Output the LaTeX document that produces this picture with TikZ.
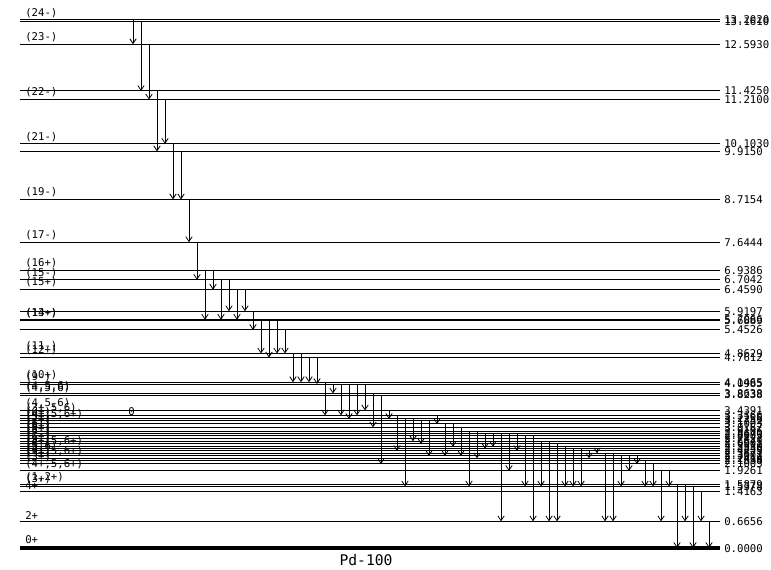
\documentclass[tikz,border=0pt]{standalone}
\usepackage{fontspec}
\setmonofont{DejaVu Sans Mono}
\usetikzlibrary{arrows.meta}
\tikzset{
  level/.style={line width=0.75pt},
  gslevel/.style={line width=3.6pt},
  gtrans/.style={-{Straight Barb[length=3.6pt,width=4.8pt]}, line width=0.6pt},
  elabel/.style={anchor=west, inner sep=0pt, font=\ttfamily\fontsize{8}{8}\selectfont},
  jlabel/.style={anchor=south west, inner sep=0pt, font=\ttfamily\fontsize{8}{8}\selectfont}
}

\begin{document}
\begin{tikzpicture}[x=0.75pt, y=-0.75pt]
  \useasboundingbox (0,0) rectangle (771,570);

  % levels: name / energy (MeV) / spin
  \foreach \nm/\en/\lab in {
      e13202/13.2020/{(24-)}, e13161/13.1610/{}, e12593/12.5930/{(23-)},
      e11425/11.4250/{}, e11210/11.2100/{(22-)},
      e10103/10.1030/{(21-)}, e9915/9.9150/{},
      e8715/8.7154/{(19-)}, e7644/7.6444/{(17-)},
      e6939/6.9386/{(16+)}, e6704/6.7042/{(15-)}, e6459/6.4590/{(15+)},
      e5920/5.9197/{}, e5707/5.7066/{(14+)}, e5689/5.6889/{(13-)}, e5453/5.4526/{},
      e4863/4.8629/{(11-)}, e4761/4.7612/{(12+)},
      e4147/4.1465/{(10+)}, e4099/4.0985/{(9-)},
      e3864/3.8638/{(4,5,6)}, e3824/3.8238/{(4,5,6)},
      e3439/3.4391/{(4,5,6)}, e3317/3.3166/{(3+,5,6)}, e3226/3.2256/{(6+)},
      e3175/3.1752/{(4+,5,6+)}, e3100/3.1003/{(5+)}, e3017/3.0167/{(7+)},
      e2911/2.9106/{(6+)}, e2867/2.8670/{(8+)}, e2800/2.8003/{(5+)},
      e2742/2.7423/{(6-)}, e2668/2.6675/{(7-)}, e2600/2.6001/{(6+)},
      e2533/2.5330/{(5-)}, e2484/2.4836/{(4+,5,6+)}, e2426/2.4255/{(6+)},
      e2367/2.3671/{(5,6)}, e2300/2.3002/{(4+)}, e2242/2.2418/{(3+,5,6+)},
      e2190/2.1898/{(5+)}, e2100/2.1003/{(3+)}, e1926/1.9261/{(4+,5,6+)},
      e1588/1.5879/{(1,2+)}, e1538/1.5378/{(3+)}, e1416/1.4163/{4+},
      e666/0.6656/{2+}}{
    \pgfmathsetmacro\yy{548-40*\en}
    \coordinate (\nm) at (20,\yy);
    \draw[level] (\nm) -- (720,\yy);
    \node[elabel] (t\nm) at (724,\yy) {\en};
    \node[jlabel] (j\nm) at (25,\yy-2) {\lab};
  }

  % ground state
  \coordinate (e0) at (20,548);
  \draw[gslevel] (e0) -- (720,548);
  \node[elabel] (te0) at (724,549) {0.0000};
  \node[jlabel] (je0) at (25,544) {0+};

  \node[elabel] (mark0) at (128,412) {0};

  % gamma transitions: x / from / to
  \foreach \xx/\hi/\lo in {
      133/e13202/e12593, 141/e13161/e11425, 149/e12593/e11210,
      157/e11425/e9915, 165/e11210/e10103, 173/e10103/e8715,
      181/e9915/e8715, 189/e8715/e7644, 197/e7644/e6704,
      205/e6939/e5707, 213/e6939/e6459, 221/e6704/e5707,
      229/e6704/e5920, 237/e6459/e5707, 245/e6459/e5920,
      253/e5920/e5453, 261/e5707/e4863, 269/e5689/e4761,
      277/e5689/e4863, 285/e5453/e4863, 293/e4863/e4147,
      301/e4863/e4147, 309/e4761/e4147, 317/e4761/e4099,
      325/e4147/e3317, 333/e4099/e3864, 341/e4099/e3317,
      349/e4099/e3226, 357/e4099/e3317, 365/e4099/e3439,
      373/e3864/e3017, 381/e3824/e2100, 389/e3439/e3226,
      397/e3317/e2426, 405/e3226/e1538, 413/e3226/e2668,
      421/e3175/e2600, 429/e3175/e2300, 437/e3317/e3100,
      445/e3100/e2300, 453/e3100/e2533, 461/e3017/e2300,
      469/e2911/e1538, 477/e2911/e2242, 485/e2867/e2484,
      493/e2867/e2533, 501/e2867/e666, 509/e2867/e1926,
      517/e2867/e2426, 525/e2800/e1538, 533/e2800/e666,
      541/e2668/e1538, 549/e2668/e666, 557/e2600/e666,
      565/e2533/e1538, 573/e2484/e1538, 581/e2484/e1538,
      589/e2426/e2242, 597/e2484/e2367, 605/e2367/e666,
      613/e2367/e666, 621/e2300/e1538, 629/e2300/e1926,
      637/e2300/e2100, 645/e2190/e1538, 653/e2100/e1538,
      661/e1926/e666, 669/e1926/e1538, 677/e1588/e0,
      685/e1588/e666, 693/e1538/e0, 701/e1416/e666,
      709/e666/e0}
    \draw[gtrans] (\xx,0 |- \hi) -- (\xx,0 |- \lo);

  \node[font=\ttfamily\fontsize{11}{11}\selectfont] (title) at (366,560) {Pd-100};
\end{tikzpicture}
\end{document}
